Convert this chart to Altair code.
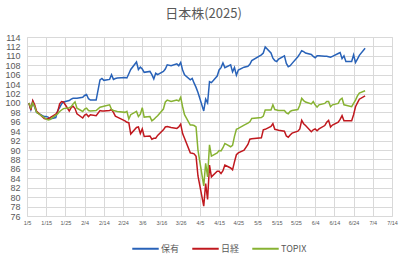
import altair as alt
import pandas as pd

# Trading days (2025)
dates = (
    ["2025-01-%02d" % d for d in [6, 7, 8, 9, 10, 14, 15, 16, 17, 20, 21, 22, 23, 24, 27, 28, 29, 30, 31]]
    + ["2025-02-%02d" % d for d in [3, 4, 5, 6, 7, 10, 12, 13, 14, 17, 18, 19, 20, 21, 25, 26, 27, 28]]
    + ["2025-03-%02d" % d for d in [3, 4, 5, 6, 7, 10, 11, 12, 13, 14, 17, 18, 19, 21, 24, 25, 26, 27, 28, 31]]
    + ["2025-04-%02d" % d for d in [1, 2, 3, 4, 7, 8, 9, 10, 11, 14, 15, 16, 17, 18, 21, 22, 23, 24, 25, 28, 30]]
    + ["2025-05-%02d" % d for d in [1, 2, 7, 8, 9, 12, 13, 14, 15, 16, 19, 20, 21, 22, 23, 26, 27, 28, 29, 30]]
    + ["2025-06-%02d" % d for d in [2, 3, 4, 5, 6, 9, 10, 11, 12, 13, 16, 17, 18, 19, 20, 23, 24, 25, 26, 27, 30]]
)

hold = [
    100.0, 98.6, 100.3, 99.1, 98.0, 97.1, 97.1, 97.0, 96.6, 96.9, 98.4, 99.0, 99.8, 100.2, 100.5, 100.8, 101.0, 101.0, 101.0,
    101.2, 101.6, 101.8, 100.9, 100.6, 100.6, 104.9, 105.2, 104.8, 105.0, 106.0, 105.0, 105.2, 105.3, 105.4, 105.3, 106.2, 107.1,
    108.7, 107.1, 107.6, 107.2, 106.5, 106.7, 106.0, 105.1, 106.3, 106.0, 106.7, 107.2, 108.1, 107.9, 108.3, 107.9, 108.6, 107.0, 106.0, 104.9,
    105.2, 104.2, 103.3, 102.2, 98.3, 100.8, 100.0, 104.5, 104.3, 105.7, 107.0, 107.5, 108.5, 107.5, 108.1, 106.6, 107.5, 105.9, 107.0, 107.6, 107.8,
    108.2, 109.0, 110.2, 110.6, 111.9, 110.6, 109.5, 109.0, 108.8, 109.3, 110.0, 108.4, 107.7, 107.9, 108.4, 109.8, 110.4, 111.1, 110.9, 110.6,
    110.3, 109.9, 109.6, 110.0, 110.0, 109.9, 109.9, 109.8, 109.7, 109.9, 110.5, 110.7, 109.4, 110.0, 108.8, 108.8, 110.2, 108.6, 109.3, 110.1, 111.6,
]

nikkei = [
    100.0, 98.5, 100.5, 99.6, 98.2, 96.7, 96.6, 96.7, 96.9, 97.6, 98.2, 99.8, 100.3, 100.2, 98.3, 99.0, 99.3, 98.8, 97.7,
    96.8, 97.4, 97.6, 97.1, 97.5, 97.3, 98.4, 98.3, 98.3, 98.4, 98.6, 98.0, 97.2, 97.0, 96.2, 95.9, 95.8, 93.4,
    94.8, 94.9, 93.5, 94.5, 92.9, 93.0, 92.3, 92.5, 92.5, 93.1, 94.3, 94.9, 95.0, 94.8, 94.6, 94.9, 95.5, 93.5, 92.5, 89.4,
    89.3, 89.2, 88.7, 84.5, 78.1, 82.9, 79.5, 86.8, 84.3, 85.5, 85.5, 85.0, 85.6, 86.8, 86.2, 85.8, 87.5, 89.0, 89.4, 90.0, 91.2,
    92.3, 92.4, 92.6, 94.3, 94.4, 95.0, 95.6, 94.4, 94.3, 94.2, 94.0, 93.0, 92.7, 93.2, 93.6, 94.0, 94.5, 96.3, 95.6, 95.2,
    93.9, 94.3, 94.5, 94.1, 94.5, 95.2, 95.9, 96.3, 94.9, 95.3, 95.9, 96.5, 97.3, 96.2, 96.2, 96.2, 97.5, 99.2, 100.0, 100.8, 101.5,
]

topix = [
    100.0, 99.0, 100.0, 99.2, 98.0, 96.9, 96.6, 96.4, 96.5, 97.4, 97.7, 98.2, 98.5, 98.8, 99.0, 99.2, 99.8, 100.2, 98.9,
    98.2, 98.7, 98.9, 98.4, 98.3, 98.4, 99.1, 99.2, 99.3, 99.6, 98.6, 98.4, 98.3, 98.2, 98.0, 98.2, 96.6, 97.5,
    98.2, 97.1, 97.6, 99.0, 97.0, 97.1, 96.2, 96.5, 96.9, 97.3, 98.7, 100.2, 100.6, 100.3, 100.6, 100.4, 101.2, 99.2, 97.5, 95.3,
    95.3, 95.2, 94.9, 90.0, 82.4, 87.2, 84.3, 91.1, 88.7, 89.4, 89.9, 89.8, 90.5, 91.4, 90.7, 91.0, 92.9, 94.4, 94.6, 95.3, 95.7,
    96.0, 96.7, 96.9, 97.2, 98.5, 98.5, 99.6, 98.6, 98.5, 98.4, 98.4, 97.9, 97.7, 98.2, 98.4, 98.6, 99.5, 101.0, 100.5, 100.2,
    99.8, 100.3, 99.6, 99.1, 99.6, 99.9, 100.3, 100.3, 99.2, 99.6, 99.9, 100.7, 101.0, 99.6, 99.5, 99.2, 99.9, 100.6, 101.5, 102.1, 102.6,
]

series_names = ["保有", "日経", "TOPIX"]
series_colors = ["#2862B8", "#C0181E", "#87B232"]
y_ticks = list(range(76, 115, 2))
x_tick_dates = [(1, 5), (1, 15), (1, 25), (2, 4), (2, 14), (2, 24), (3, 6), (3, 16), (3, 26), (4, 5),
                (4, 15), (4, 25), (5, 5), (5, 15), (5, 25), (6, 4), (6, 14), (6, 24), (7, 4), (7, 14)]

rows = []
for name, vals in zip(series_names, [hold, nikkei, topix]):
    for d, v in zip(dates, vals):
        rows.append({"date": d, "value": v, "series": name, "order": series_names.index(name)})
df = pd.DataFrame(rows)

x_vals = [alt.DateTime(year=2025, month=m, date=d, utc=True) for m, d in x_tick_dates]

chart = alt.Chart(df).mark_line(strokeWidth=1.5).encode(
    x=alt.X("date:T",
            scale=alt.Scale(type="utc",
                            domain=[alt.DateTime(year=2025, month=1, date=5, utc=True),
                                    alt.DateTime(year=2025, month=7, date=14, utc=True)]),
            axis=alt.Axis(title=None, values=x_vals, format="%-m/%-d", labelFontSize=5.5,
                          labelColor="#595959", labelPadding=4, tickSize=0, domain=False,
                          gridColor="#d9d9d9", labelFont="Liberation Sans", labelFlush=False,
                          labelOverlap=False)),
    y=alt.Y("value:Q",
            scale=alt.Scale(domain=[76, 114], nice=False, zero=False),
            axis=alt.Axis(title=None, values=y_ticks, labelFontSize=9, labelColor="#595959",
                          labelPadding=7, tickSize=0, domain=False, gridColor="#d9d9d9",
                          labelFont="Liberation Sans", labelOverlap=False)),
    color=alt.Color("series:N",
                    scale=alt.Scale(domain=series_names, range=series_colors),
                    sort=series_names,
                    legend=alt.Legend(title=None, orient="none", direction="horizontal",
                                      legendX=104, legendY=197, symbolType="stroke",
                                      symbolSize=700, symbolStrokeWidth=2, labelFontSize=9,
                                      labelFont="Noto Sans CJK JP", labelColor="#595959",
                                      columnPadding=8, labelOffset=1)),
    order=alt.Order("order:Q"),
    detail="series:N",
).properties(
    width=365,
    height=179,
    title=alt.TitleParams(text="日本株(2025)", font="Noto Sans CJK JP", fontSize=13,
                          fontWeight="normal", color="#595959", dx=-6, offset=12),
    autosize=alt.AutoSizeParams(type="none"),
    padding={"left": 27, "top": 37, "right": 16, "bottom": 38},
).configure_view(stroke=None).configure(background="white")

chart.save("out.html", embed_options={"renderer": "svg", "actions": False})
